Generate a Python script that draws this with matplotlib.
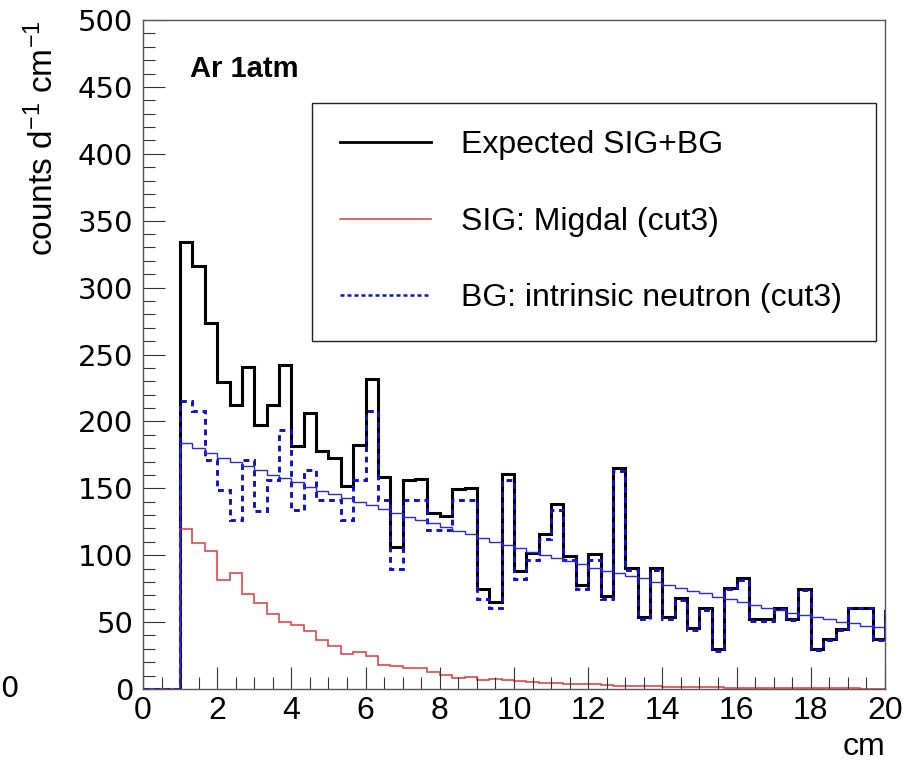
import numpy as np
import matplotlib
matplotlib.use("Agg")
import matplotlib.pyplot as plt
from matplotlib.ticker import MultipleLocator
from matplotlib.lines import Line2D

plt.rcParams['font.family'] = ['Liberation Sans', 'DejaVu Sans']
plt.rcParams['mathtext.default'] = 'regular'

# Histogram binning: 0..20 cm, 1/3 cm bins (+1 overflow bin beyond 20)
n_bins = 60
x_min, x_max = 0.0, 20.0

# Values per bin starting at x = 1 cm (bins below 1 cm are empty)
total = [334, 316.5, 273.5, 229.8, 212.5, 241, 197.3, 212.3, 242.5, 181.5,
         206, 177.6, 172.6, 151.8, 182.3, 231.6, 158.5, 106.4, 156.3, 156.6,
         131.6, 129.5, 149.8, 150.2, 74.6, 65.3, 160.6, 87.9, 101.6, 115.9,
         138, 99.6, 77.7, 100.8, 69.6, 165.3, 90.6, 54, 90.6, 53.8,
         67.8, 45.5, 60.3, 29.7, 75.7, 82.8, 52, 52, 60.3, 52,
         74.7, 29.6, 37.1, 44.6, 60.7, 60.7, 37.1, 58]
sig = [119.5, 109.5, 103.3, 81.4, 86.6, 70.8, 64, 56.3, 49.9, 47.8,
       43.4, 36.6, 32.5, 26.3, 27.5, 24.4, 17.9, 17.2, 15.4, 15.9,
       12.9, 10.5, 8.0, 8.7, 6.9, 7.2, 6.7, 5.9, 5.5, 4.7,
       4.7, 3.5, 3.7, 4.0, 3.0, 2.5, 2.2, 2.0, 2.0, 1.8,
       1.6, 1.5, 1.3, 1.2, 1.0, 1.0, 0.9, 0.8, 0.7, 0.6,
       0.6, 0.5, 0.5, 0.4, 0.4, 0.3, 0.3, 0.3]
bg = [215, 207.5, 171, 148.7, 126, 171, 133, 156.3, 193.5, 133.5,
      163.5, 141.2, 141.2, 126, 156, 208, 141.2, 89.4, 141.2, 141.2,
      119, 118.8, 141.2, 141.2, 67.5, 60.3, 156.1, 81.9, 96.4, 111.8,
      133.7, 96.4, 74.6, 96.4, 67.2, 163, 88.6, 52, 88.6, 52,
      66.2, 44, 59, 28.5, 74.7, 81.8, 51.1, 51.2, 59.6, 51.4,
      74.1, 29.1, 36.6, 44.2, 60.3, 60.4, 36.8, 57.7]
bg_fit = [183.5, 179.8, 176.5, 172.8, 169.3, 166.6, 163.6, 159.9, 157.4, 154.4,
          151.1, 148.2, 145.6, 142.8, 139.7, 137.5, 134.8, 131.5, 128.7, 126.2,
          123.8, 120.8, 118.3, 115.8, 112.6, 110, 107.6, 105.1, 102.6, 100.1,
          97.6, 95.8, 93.4, 90.2, 88.4, 86.4, 84.5, 82.7, 80.2, 77.7,
          75.2, 73.5, 71.5, 69, 67.2, 65.2, 62.8, 60.7, 59, 57,
          55.3, 53.5, 52, 50.3, 49, 47.3, 46, 45.5]

labels = ["Expected SIG+BG", "SIG: Migdal (cut3)", "BG: intrinsic neutron (cut3)"]

bw = (x_max - x_min) / n_bins
n_empty = 3
edges = x_min + bw * np.arange(n_empty + len(total) + 1)

def full(v):
    return np.concatenate([np.zeros(n_empty), np.asarray(v, float)])

fig = plt.figure(figsize=(9.19, 7.66), dpi=100)
ax = fig.add_axes([0.1556, 0.1005, 0.8074, 0.8734])

c_black = '#000000'
c_red = '#e04848'
c_blue = '#1010c8'
c_blue2 = '#2a2ad8'

ax.stairs(full(total), edges, baseline=None, color=c_black, lw=2.2)
ax.stairs(full(sig), edges, baseline=None, color=c_red, lw=1.2)
ax.stairs(full(bg), edges, baseline=None, color=c_blue, lw=2.1,
          linestyle=(0, (2.0, 1.6)))
ax.stairs(full(bg_fit), edges, baseline=None, color=c_blue2, lw=1.0)

ax.set_xlim(x_min, x_max)
ax.set_ylim(0, 500)

ax.xaxis.set_major_locator(MultipleLocator(2))
ax.xaxis.set_minor_locator(MultipleLocator(0.5))
ax.yaxis.set_major_locator(MultipleLocator(50))
ax.yaxis.set_minor_locator(MultipleLocator(10))
ax.tick_params(which='both', direction='in', top=False, right=False,
               width=0.8, color='#333333')
ax.tick_params(which='major', length=16, pad=6)
ax.tick_params(which='minor', length=8.5)
ax.tick_params(axis='x', labelsize=23, pad=5)
ax.tick_params(axis='y', labelsize=21, pad=7)
for lab in ax.get_yticklabels():
    lab.set_family('DejaVu Sans')
for s in ax.spines.values():
    s.set_color('#555555')
    s.set_linewidth(1.0)

ax.set_xlabel('cm', fontsize=23, loc='right', labelpad=4)
ax.set_ylabel('counts d$^{-1}$ cm$^{-1}$', fontsize=24, loc='top', labelpad=13)

ax.text(0.063, 0.927, 'Ar 1atm', transform=ax.transAxes, fontsize=21,
        fontweight='bold', va='center', ha='left')

handles = [Line2D([], [], color=c_black, lw=2.0),
           Line2D([], [], color=c_red, lw=1.2),
           Line2D([], [], color=c_blue, lw=1.8, linestyle=(0, (1.6, 1.2)))]
leg = ax.legend(handles, labels, loc='upper left',
                bbox_to_anchor=(0.228, 0.526, 0.76, 0.35), mode='expand',
                fontsize=23, frameon=True, fancybox=False, edgecolor='#222222',
                framealpha=1, handlelength=2.85, handletextpad=0.95,
                labelspacing=1.45, borderpad=0.86, borderaxespad=0)
leg.get_frame().set_linewidth(1.0)

fig.text(0.0, 0.10, '0', fontsize=21, ha='left', va='center', family='DejaVu Sans')

fig.savefig('out.png', dpi=100)
